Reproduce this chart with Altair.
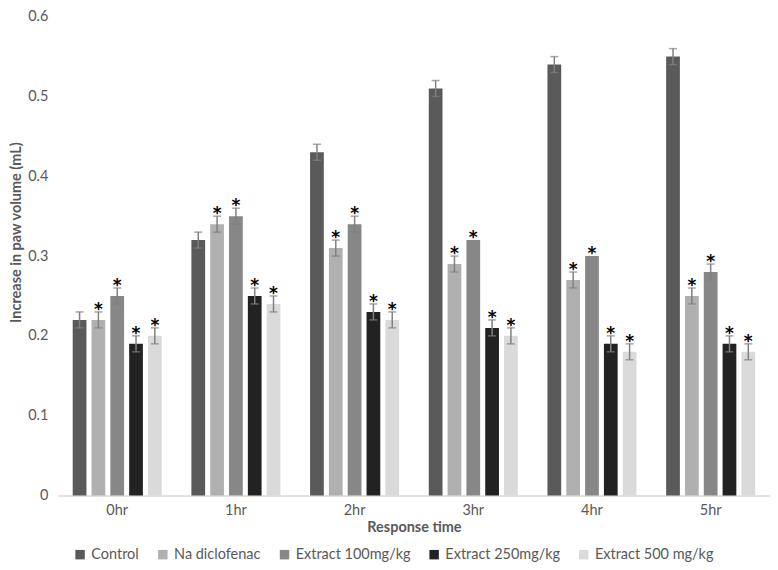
import altair as alt
import pandas as pd

times = ["0hr", "1hr", "2hr", "3hr", "4hr", "5hr"]
groups = ["Control", "Na diclofenac", "Extract 100mg/kg", "Extract 250mg/kg", "Extract 500 mg/kg"]
colors = ["#5a5a5a", "#b0b0b0", "#878787", "#222222", "#dadada"]

control = [0.22, 0.32, 0.43, 0.51, 0.54, 0.55]
diclofenac = [0.22, 0.34, 0.31, 0.29, 0.27, 0.25]
ext100 = [0.25, 0.35, 0.34, 0.32, 0.30, 0.28]
ext250 = [0.19, 0.25, 0.23, 0.21, 0.19, 0.19]
ext500 = [0.20, 0.24, 0.22, 0.20, 0.18, 0.18]

err_control = [0.01, 0.01, 0.01, 0.01, 0.01, 0.01]
err_diclofenac = [0.01, 0.01, 0.01, 0.01, 0.01, 0.01]
err_ext100 = [0.01, 0.01, 0.01, 0.0, 0.0, 0.01]
err_ext250 = [0.01, 0.01, 0.01, 0.01, 0.01, 0.01]
err_ext500 = [0.01, 0.01, 0.01, 0.01, 0.01, 0.01]

stars = ["", "*", "*", "*", "*"]

series = [control, diclofenac, ext100, ext250, ext500]
errors = [err_control, err_diclofenac, err_ext100, err_ext250, err_ext500]

rows = []
for g, vals, errs, st in zip(groups, series, errors, stars):
    for t, v, e in zip(times, vals, errs):
        rows.append({"time": t, "group": g, "value": v, "lo": v - e, "hi": v + e, "star": st})
df = pd.DataFrame(rows)

FONT = "Lato"
FS = 14.5

x = alt.X("time:N", sort=times, title="Response time",
          scale=alt.Scale(paddingInner=0.25, paddingOuter=0.125),
          axis=alt.Axis(labelAngle=0, ticks=False, domainColor="#d9d9d9", domainWidth=1.5,
                        labelColor="#595959", labelFontSize=FS, labelPadding=8,
                        titleColor="#595959", titleFontSize=FS, titleFontWeight="bold", titlePadding=4))
xo = alt.XOffset("group:N", sort=groups, scale=alt.Scale(paddingInner=0.27, paddingOuter=0.0))

bars = alt.Chart(df).mark_bar().encode(
    x=x,
    xOffset=xo,
    y=alt.Y("value:Q", title="Increase in paw volume (mL)",
            scale=alt.Scale(domain=[0, 0.6]),
            axis=alt.Axis(values=[0, 0.1, 0.2, 0.3, 0.4, 0.5, 0.6], grid=False, domain=False, ticks=False,
                          labelExpr="datum.value == 0 ? '0' : format(datum.value, '.1f')",
                          labelColor="#595959", labelFontSize=FS, labelPadding=10,
                          titleColor="#595959", titleFontSize=FS, titleFontWeight="bold",
                          titlePadding=4, titleY=216)),
    color=alt.Color("group:N", sort=groups,
                    scale=alt.Scale(domain=groups, range=colors),
                    legend=alt.Legend(orient="none", legendX=15, legendY=532,
                                      direction="horizontal", title=None,
                                      symbolType="square", symbolSize=90, labelFontSize=FS,
                                      labelColor="#595959", columnPadding=16, symbolStrokeWidth=0)),
)

err_df = df[df["hi"] > df["lo"]]
rules = alt.Chart(err_df).mark_rule(color="#808080", strokeWidth=1.5).encode(
    x=alt.X("time:N", sort=times), xOffset=xo, y="lo:Q", y2="hi:Q")
cap_hi = alt.Chart(err_df).mark_tick(color="#808080", thickness=1.5, size=8, orient="horizontal").encode(
    x=alt.X("time:N", sort=times), xOffset=xo, y="hi:Q")
cap_lo = alt.Chart(err_df).mark_tick(color="#808080", thickness=1.5, size=8, orient="horizontal").encode(
    x=alt.X("time:N", sort=times), xOffset=xo, y="lo:Q")

text = alt.Chart(df).mark_text(font="DejaVu Sans", fontSize=17, fontWeight="bold", color="#000000",
                               dy=3, baseline="alphabetic").encode(
    x=alt.X("time:N", sort=times), xOffset=xo, y="hi:Q", text="star:N")

chart = alt.layer(bars, rules, cap_hi, cap_lo, text).properties(
    width=714, height=480,
    padding={"top": 0, "left": 0, "right": 0, "bottom": 0}
).configure(font=FONT).configure_view(stroke=None).configure_axis(labelFont=FONT, titleFont=FONT
).configure_legend(labelFont=FONT)

chart.save("out.html", embed_options={"renderer": "svg", "actions": False})
